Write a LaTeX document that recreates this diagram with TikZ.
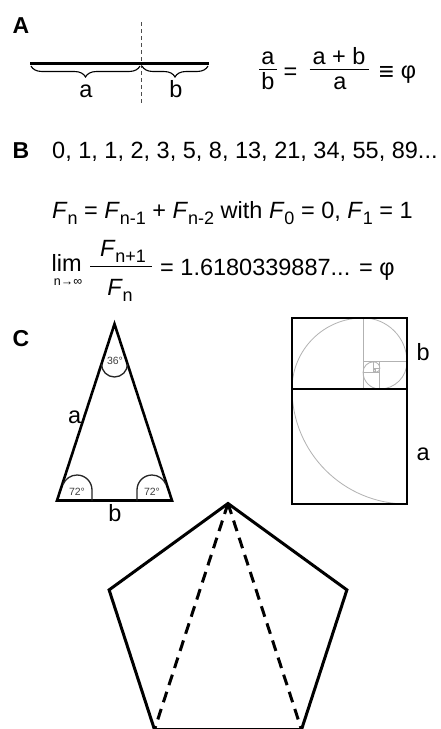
\documentclass[tikz,border=0pt]{standalone}
\usepackage{fontspec}
\setmainfont{Liberation Sans}
\usetikzlibrary{decorations.pathreplacing}
\newcommand\lowsub[1]{\raisebox{-6pt}{\fontsize{18}{18}\selectfont #1}}
\begin{document}
\begin{tikzpicture}[x=1pt,y=-1pt,
  txt/.style={inner sep=0pt, font=\fontsize{23.5}{28}\selectfont},
  lbl/.style={inner sep=0pt, font=\fontsize{23}{26}\selectfont\bfseries},
  deg/.style={inner sep=0pt, font=\fontsize{10.5}{12}\selectfont, text=black!75},
  heavy/.style={line width=2.6pt, black},
  fracbar/.style={line width=1.4pt, black},
  anglearc/.style={line width=1.3pt, black!85},
  spiral/.style={line width=0.8pt, black!30},
  bracestyle/.style={decorate, decoration={brace, mirror, amplitude=11pt}, line width=1.1pt},
  dashline/.style={line width=3pt, dash pattern=on 11pt off 7pt}]
\useasboundingbox (0,0) rectangle (440,729);
\fill[white] (0,0) rectangle (440,729);

% ---------- A ----------
\node[lbl, anchor=base west] (labA) at (12.5,33) {A};
\coordinate (segL) at (30,63.5);
\coordinate (segM) at (141,63.5);
\coordinate (segR) at (209,63.5);
\coordinate (dashT) at (141,22);
\coordinate (dashB) at (141,105);
\draw[black!70, line width=0.9pt, dash pattern=on 4pt off 3pt] (dashT) -- (dashB);
\draw[line width=2.4pt] (segL) -- (segR);
\draw[bracestyle] (31,66) -- (140,66);
\draw[bracestyle] (142,66) -- (208,66);
\node[txt, anchor=base] (la) at (86,97) {a};
\node[txt, anchor=base] (lb) at (176,97) {b};

\node[txt, anchor=base] (fa1) at (268,64) {a};
\draw[fracbar] (259,69.5) -- (277,69.5);
\node[txt, anchor=base] (fb1) at (268,89) {b};
\node[txt, anchor=base] (eq1) at (290.5,79) {=};
\node[txt, anchor=base] (fa2) at (339,64) {a + b};
\draw[fracbar] (309.5,69.5) -- (368.5,69.5);
\node[txt, anchor=base] (fb2) at (340,89) {a};
\node[txt, anchor=base, font=\fontsize{26}{28}\selectfont] (eqv) at (386.5,80) {≡};
\node[txt, anchor=base] (phi1) at (408.5,78) {φ};

% ---------- B ----------
\node[lbl, anchor=base west] (labB) at (12.5,158) {B};
\node[txt, anchor=base west] (seq) at (52,158.5) {0, 1, 1, 2, 3, 5, 8, 13, 21, 34, 55, 89...};
\node[txt, anchor=base west] (rec) at (52,218.3)
  {\textit{F}\lowsub{n} = \textit{F}\lowsub{n-1} + \textit{F}\lowsub{n-2} with \textit{F}\lowsub{0} = 0, \textit{F}\lowsub{1} = 1};
\node[txt, anchor=base west] (lim) at (51.5,271.2) {lim};
\node[inner sep=0pt, anchor=base, font=\fontsize{12.5}{14}\selectfont] (limsub) at (68,285) {n→∞};
\node[txt, anchor=base] (num) at (123,256.7) {\textit{F}\lowsub{n+1}};
\draw[fracbar] (90,266.5) -- (152,266.5);
\node[txt, anchor=base] (den) at (120,295) {\textit{F}\lowsub{n}};
\node[txt, anchor=base west] (limrest) at (160,275) {= 1.6180339887... = φ};

% ---------- C ----------
\node[lbl, anchor=base west] (labC) at (12.5,346) {C};

% triangle
\coordinate (tA) at (114.5,324);
\coordinate (tL) at (57,500.5);
\coordinate (tR) at (172,500.5);
\draw[heavy, line join=miter] (tA) -- (tL) -- (tR) -- cycle;
\draw[anglearc] (101.5,364) arc[start angle=180, end angle=0, radius=13];
\draw[anglearc] (92,500.5) -- (92,490) arc[start angle=0, end angle=-158, radius=15];
\draw[anglearc] (137,500.5) -- (137,490) arc[start angle=180, end angle=338, radius=15];
\node[deg] (d36) at (115,360.5) {36°};
\node[deg] (d72l) at (77,491.5) {72°};
\node[deg] (d72r) at (152,491.5) {72°};
\node[txt, anchor=base west] (ta) at (68,423) {a};
\node[txt, anchor=base] (tb) at (115,521.5) {b};

% golden rectangle
\draw[spiral] (363.07,317.93) -- (363.07,389);
\draw[spiral] (363.07,361.86) -- (407,361.86);
\draw[spiral] (379.85,361.86) -- (379.85,389);
\draw[spiral] (363.07,372.22) -- (379.85,372.22);
\draw[spiral] (373.44,361.86) -- (373.44,372.22);
\draw[spiral] (373.44,368.27) -- (379.85,368.27);
\draw[spiral] (375.89,368.27) -- (375.89,372.22);
\draw[spiral] (373.44,369.77) -- (375.89,369.77);
\draw[spiral] (407,504)
  arc[start angle=90, end angle=180, radius=115]
  arc[start angle=180, end angle=270, radius=71.07]
  arc[start angle=270, end angle=360, radius=43.93]
  arc[start angle=0, end angle=90, radius=27.15]
  arc[start angle=90, end angle=180, radius=16.78]
  arc[start angle=180, end angle=270, radius=10.37]
  arc[start angle=270, end angle=360, radius=6.41]
  arc[start angle=0, end angle=90, radius=3.96]
  arc[start angle=90, end angle=180, radius=2.45];
\draw[heavy] (292,317.93) rectangle (407,504);
\draw[heavy] (292,389) -- (407,389);
\node[txt, anchor=base west] (rb) at (416.5,360) {b};
\node[txt, anchor=base west] (ra) at (416.5,460) {a};

% pentagon
\coordinate (pT) at (228,503.5);
\coordinate (pL) at (109.1,589.9);
\coordinate (pR) at (346.9,589.9);
\coordinate (pBL) at (154.5,729.6);
\coordinate (pBR) at (301.5,729.6);
\draw[heavy, line width=3pt, line join=miter] (pBL) -- (pL) -- (pT) -- (pR) -- (pBR) -- cycle;
\draw[dashline] (pT) -- (pBL);
\draw[dashline] (pT) -- (pBR);
\end{tikzpicture}
\end{document}
